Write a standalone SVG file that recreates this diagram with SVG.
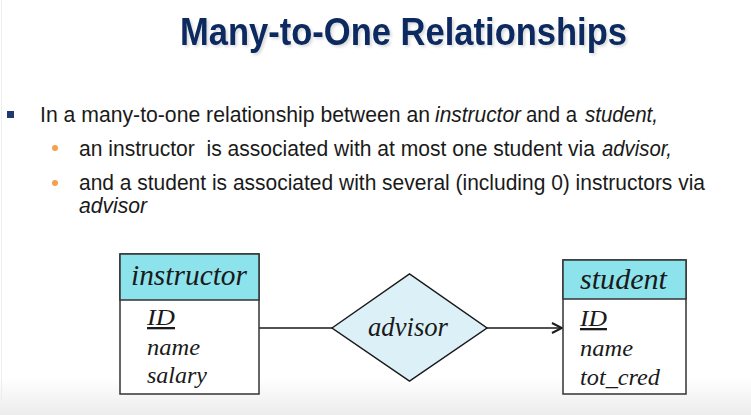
<svg xmlns="http://www.w3.org/2000/svg" width="751" height="415" viewBox="0 0 751 415">
  <style>
    .title { font-family: "Liberation Sans", Arial, sans-serif; font-weight: bold; font-size: 38px; fill: #0c2a60; }
    .body { font-family: "Liberation Sans", Arial, sans-serif; font-size: 21.5px; fill: #1a1a1a; white-space: pre; }
    .it { font-style: italic; }
    .er { font-family: "Liberation Serif", "DejaVu Serif", serif; font-style: italic; fill: #1a1a1a; }
    .ename { font-size: 29px; }
    .attr { font-size: 23px; }
    .rname { font-size: 28px; }
    .edge { stroke: #1a1a1a; stroke-width: 1.6; fill: none; }
    .box { fill: #ffffff; stroke: #333333; stroke-width: 1.5; }
    .head { fill: #8de3ec; stroke: #333333; stroke-width: 1.5; }
    .rel { fill: #dcf1f7; stroke: #1a1a1a; stroke-width: 1.5; }
  </style>
  <defs>
    <linearGradient id="floor" x1="0" y1="0" x2="0" y2="1">
      <stop offset="0" stop-color="#ffffff"/>
      <stop offset="1" stop-color="#ececec"/>
    </linearGradient>
    <filter id="shadow" x="-5%" y="-20%" width="110%" height="150%">
      <feGaussianBlur in="SourceAlpha" stdDeviation="1.5"/>
      <feOffset dx="2" dy="2" result="b"/>
      <feComponentTransfer><feFuncA type="linear" slope="0.15"/></feComponentTransfer>
      <feMerge><feMergeNode/><feMergeNode in="SourceGraphic"/></feMerge>
    </filter>
    <marker id="arrow" viewBox="0 0 12 12" refX="11" refY="6" markerWidth="12" markerHeight="12" markerUnits="userSpaceOnUse" orient="auto">
      <polyline points="1,1 11,6 1,11" fill="none" stroke="#1a1a1a" stroke-width="2"/>
    </marker>
  </defs>

  <!-- page background -->
  <rect x="0" y="0" width="751" height="415" fill="#ffffff"/>
  <rect x="0" y="378" width="751" height="37" fill="url(#floor)"/>
  <line x1="1.5" y1="0" x2="1.5" y2="400" stroke="#ededed" stroke-width="1"/>

  <!-- heading -->
  <text class="title" x="180" y="45" textLength="447" lengthAdjust="spacingAndGlyphs" filter="url(#shadow)">Many-to-One Relationships</text>

  <!-- bullet text, line 1 -->
  <rect x="7" y="111" width="7" height="7" fill="#1f3a6e"/>
  <text class="body" x="40" y="122" textLength="390" lengthAdjust="spacingAndGlyphs">In a many-to-one relationship between an</text>
  <text class="body it" x="435" y="122" textLength="86" lengthAdjust="spacingAndGlyphs">instructor</text>
  <text class="body" x="526" y="122" textLength="51" lengthAdjust="spacingAndGlyphs">and a</text>
  <text class="body it" x="585" y="122" textLength="73" lengthAdjust="spacingAndGlyphs">student,</text>

  <!-- sub-bullet 1 -->
  <circle cx="55" cy="148" r="3" fill="#f5a04a"/>
  <text class="body" x="79" y="156" textLength="516" lengthAdjust="spacingAndGlyphs">an instructor  is associated with at most one student via</text>
  <text class="body it" x="602" y="156" textLength="70" lengthAdjust="spacingAndGlyphs">advisor,</text>

  <!-- sub-bullet 2 -->
  <circle cx="55" cy="183" r="3" fill="#f5a04a"/>
  <text class="body" x="79" y="190" textLength="626" lengthAdjust="spacingAndGlyphs">and a student is associated with several (including 0) instructors via</text>
  <text class="body it" x="79" y="213" textLength="68" lengthAdjust="spacingAndGlyphs">advisor</text>

  <!-- connectors -->
  <g id="connectors">
    <line class="edge" x1="259" y1="328" x2="332" y2="328"/>
    <line class="edge" x1="487" y1="328" x2="562" y2="328" marker-end="url(#arrow)"/>
  </g>

  <!-- entity: instructor -->
  <g id="instructor">
    <rect class="box" x="120" y="254" width="139" height="140"/>
    <rect class="head" x="120" y="254" width="139" height="46"/>
    <text class="er ename" x="131" y="285" textLength="116" lengthAdjust="spacingAndGlyphs">instructor</text>
    <text class="er attr" x="147" y="325" textLength="28" lengthAdjust="spacingAndGlyphs" text-decoration="underline">ID</text>
    <text class="er attr" x="147" y="355" textLength="53" lengthAdjust="spacingAndGlyphs">name</text>
    <text class="er attr" x="147" y="383" textLength="60" lengthAdjust="spacingAndGlyphs">salary</text>
  </g>

  <!-- relationship: advisor -->
  <g id="advisor">
    <polygon class="rel" points="332,328 409.5,274 487,328 409.5,381"/>
    <text class="er rname" x="368" y="336" textLength="80" lengthAdjust="spacingAndGlyphs">advisor</text>
  </g>

  <!-- entity: student -->
  <g id="student">
    <rect class="box" x="563" y="260" width="123" height="134"/>
    <rect class="head" x="563" y="260" width="123" height="39"/>
    <text class="er ename" x="580" y="289" textLength="87" lengthAdjust="spacingAndGlyphs">student</text>
    <text class="er attr" x="580" y="326" textLength="27" lengthAdjust="spacingAndGlyphs" text-decoration="underline">ID</text>
    <text class="er attr" x="580" y="356" textLength="53" lengthAdjust="spacingAndGlyphs">name</text>
    <text class="er attr" x="580" y="385" textLength="80" lengthAdjust="spacingAndGlyphs">tot_cred</text>
  </g>
</svg>
